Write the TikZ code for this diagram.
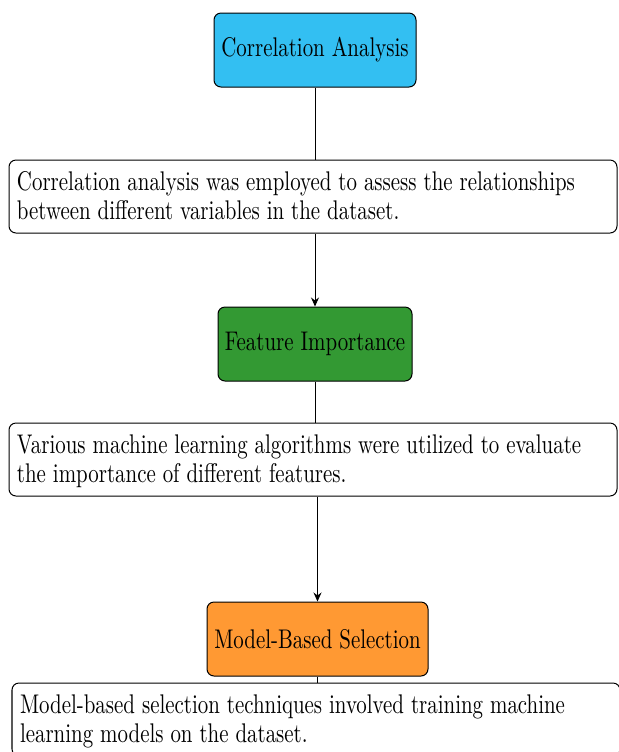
\documentclass[tikz,border=0pt]{standalone}
\usetikzlibrary{arrows.meta}
\definecolor{boxcyan}{RGB}{51,191,242}
\definecolor{boxgreen}{RGB}{51,153,51}
\definecolor{boxorange}{RGB}{255,153,51}
\newcommand\vstr[1]{\scalebox{1.045}[1.35]{#1}}
\newcommand\vpar[1]{\raisebox{-1.5pt}[\height][\depth]{\scalebox{1.045}[1.35]{\fontsize{10}{10.74}\selectfont\begin{tabular}{@{}l@{}}#1\end{tabular}}}}
\begin{document}
\begin{tikzpicture}[x=0.5pt,y=-0.5pt,
  titlebox/.style={draw=black, line width=0.5pt, rounded corners=3.5pt, minimum height=37pt, inner sep=0pt},
  descbox/.style={draw=black, line width=0.5pt, rounded corners=3.5pt, minimum height=36.5pt, text width=296pt, inner xsep=4pt, inner ysep=0pt, align=left},
  link/.style={line width=0.5pt},
  arrowlink/.style={line width=0.5pt, -{Stealth[length=4.5pt,width=4pt]}}]
\useasboundingbox (0,0) rectangle (618,752);
\node[titlebox, fill=boxcyan, minimum width=101pt] (t1) at (315,50) {\vstr{Correlation Analysis}};
\node[descbox] (d1) at (313,196.5) {\vpar{Correlation analysis was employed to assess the relationships\\between different variables in the dataset.}};
\node[titlebox, fill=boxgreen, minimum width=97pt] (t2) at (315,344) {\vstr{Feature Importance}};
\node[descbox] (d2) at (313,459.5) {\vpar{Various machine learning algorithms were utilized to evaluate\\the importance of different features.}};
\node[titlebox, fill=boxorange, minimum width=110.5pt] (t3) at (317.5,639) {\vstr{Model-Based Selection}};
\node[descbox] (d3) at (316,719.5) {\vpar{Model-based selection techniques involved training machine\\learning models on the dataset.}};
\draw[link] (t1.south) -- (t1.south |- d1.north);
\draw[arrowlink] (t2.north |- d1.south) -- (t2.north);
\draw[link] (t2.south) -- (t2.south |- d2.north);
\draw[arrowlink] (t3.north |- d2.south) -- (t3.north);
\draw[link] (t3.south) -- (t3.south |- d3.north);
\end{tikzpicture}
\end{document}
